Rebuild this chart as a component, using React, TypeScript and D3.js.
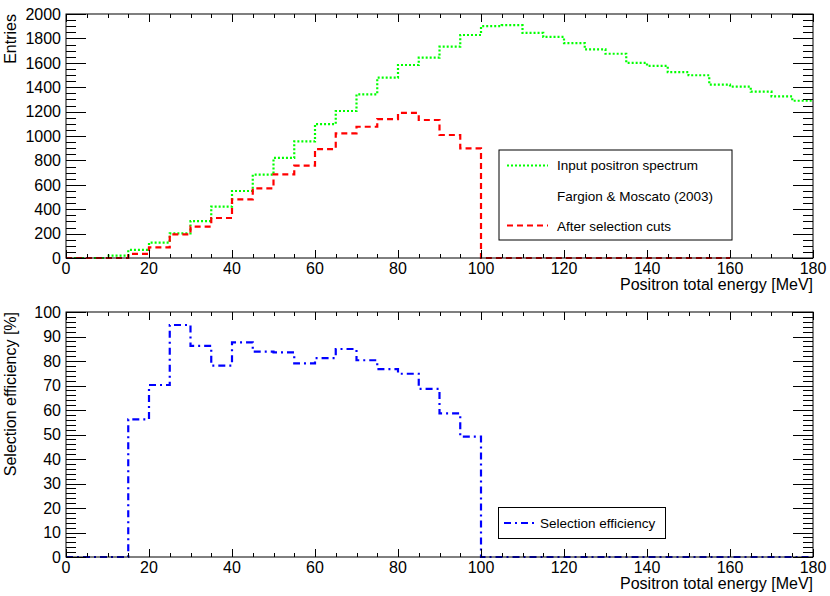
import React from "react";
import * as d3 from "d3";

// ---- data (bins of 5 MeV starting at 0) ----
const binWidth = 5;
const inputSpectrum = [
  0, 0, 20, 66, 126, 202, 303, 421, 549, 683, 820, 956, 1098, 1205, 1342, 1478, 1582, 1642,
  1732, 1828, 1900, 1908, 1845, 1812, 1762, 1710, 1674, 1600, 1575, 1523, 1498, 1421, 1404,
  1363, 1325, 1289,
];
const afterCuts = [
  0, 0, 0, 33, 87, 194, 257, 328, 481, 571, 686, 757, 893, 1022, 1076, 1139, 1189, 1131,
  1008, 899, 0, 0, 0, 0, 0, 0, 0, 0, 0, 0, 0, 0,
];
const efficiency = [
  0, 0, 0, 56.2, 70.2, 94.7, 86.2, 78.1, 87.6, 83.8, 83.5, 79.0, 81.2, 84.9, 80.3, 76.7, 74.8,
  68.6, 58.6, 49.1, 0, 0, 0, 0, 0, 0, 0, 0, 0, 0, 0, 0, 0, 0, 0, 0,
];
const xTickLabels = [0, 20, 40, 60, 80, 100, 120, 140, 160, 180];
const yTopTickLabels = [0, 200, 400, 600, 800, 1000, 1200, 1400, 1600, 1800, 2000];
const yBotTickLabels = [0, 10, 20, 30, 40, 50, 60, 70, 80, 90, 100];
const xTitle = "Positron total energy [MeV]";
const yTopTitle = "Entries";
const yBotTitle = "Selection efficiency [%]";
const legendTop = ["Input positron spectrum", "Fargion & Moscato (2003)", "After selection cuts"];
const legendBot = ["Selection efficiency"];

const FONT = "'Liberation Sans', Arial, Helvetica, sans-serif";

const L = 66, R = 813;
const x = d3.scaleLinear().domain([0, 180]).range([L, R]);
const yTop = d3.scaleLinear().domain([0, 2000]).range([258, 14]);
const yBot = d3.scaleLinear().domain([0, 100]).range([557, 312]);

function histPath(vals: number[], y: d3.ScaleLinear<number, number>) {
  const pts: [number, number][] = vals.map((v, i) => [i * binWidth, v]);
  pts.push([vals.length * binWidth, vals[vals.length - 1]]);
  return d3
    .line<[number, number]>()
    .x((d) => x(d[0]))
    .y((d) => y(d[1]))
    .curve(d3.curveStepAfter)(pts) as string;
}

function Frame({
  y,
  yMinorStep,
  yMajorStep,
  yMax,
  yLabels,
  yTitle,
}: {
  y: d3.ScaleLinear<number, number>;
  yMinorStep: number;
  yMajorStep: number;
  yMax: number;
  yLabels: number[];
  yTitle: string;
}) {
  const [bottom, top] = y.range();
  const xt = d3.range(0, 181, 5);
  const yt = d3.range(0, yMax + 0.001, yMinorStep);
  return (
    <g>
      <rect x={L} y={top} width={R - L} height={bottom - top} fill="none" stroke="#000" strokeWidth={1} />
      {xt.map((v) => {
        const len = v % 20 === 0 ? 8 : 4;
        const xx = Math.round(x(v)) + 0.5;
        return (
          <g key={"x" + v}>
            <line x1={xx} x2={xx} y1={bottom} y2={bottom - len} stroke="#000" />
            <line x1={xx} x2={xx} y1={top} y2={top + len} stroke="#000" />
          </g>
        );
      })}
      {yt.map((v) => {
        const major = Math.abs(v / yMajorStep - Math.round(v / yMajorStep)) < 1e-6;
        const len = major ? 20 : 10;
        const yy = Math.round(y(v)) + 0.5;
        return (
          <g key={"y" + v}>
            <line x1={L} x2={L + len} y1={yy} y2={yy} stroke="#000" />
            <line x1={R} x2={R - len} y1={yy} y2={yy} stroke="#000" />
          </g>
        );
      })}
      {xTickLabels.map((v) => (
        <text key={"xl" + v} x={x(v)} y={bottom + 15.5} textAnchor="middle" fontSize={16} fontFamily={FONT}>
          {v}
        </text>
      ))}
      {yLabels.map((v) => (
        <text key={"yl" + v} x={61} y={y(v)} dy="0.36em" textAnchor="end" fontSize={16} fontFamily={FONT}>
          {v}
        </text>
      ))}
      <text x={R} y={bottom + 31.5} textAnchor="end" fontSize={16} fontFamily={FONT}>
        {xTitle}
      </text>
      <text
        transform={`translate(16,${top}) rotate(-90)`}
        textAnchor="end"
        fontSize={16}
        fontFamily={FONT}
      >
        {yTitle}
      </text>
    </g>
  );
}

export default function App() {
  const green = "#00ff00";
  const red = "#ff0000";
  const blue = "#0000ff";
  const dotted = "2,2";
  const dashed = "6,4";
  const dashDot = "7,4,2,4";
  return (
    <svg
      width={830}
      height={596}
      style={{ position: "absolute", left: 0, top: 0, background: "#fff" }}
    >
      <rect x={0} y={0} width={830} height={596} fill="#fff" />
      {/* top panel */}
      <path d={histPath(inputSpectrum, yTop)} fill="none" stroke={green} strokeWidth={2.2} strokeDasharray={dotted} />
      <path d={histPath(afterCuts, yTop)} fill="none" stroke={red} strokeWidth={2.2} strokeDasharray={dashed} />
      <Frame y={yTop} yMinorStep={50} yMajorStep={200} yMax={2000} yLabels={yTopTickLabels} yTitle={yTopTitle} />
      <g>
        <rect x={499} y={150} width={233} height={90} fill="#fff" stroke="#000" strokeWidth={1} />
        <line x1={507} x2={548} y1={165.5} y2={165.5} stroke={green} strokeWidth={2.2} strokeDasharray={dotted} />
        <line x1={507} x2={548} y1={225.5} y2={225.5} stroke={red} strokeWidth={2.2} strokeDasharray={dashed} />
        {legendTop.map((t, i) => (
          <text key={t} x={557} y={[165.6, 196, 225.7][i]} dy="0.36em" fontSize={13.5} fontFamily={FONT}>
            {t}
          </text>
        ))}
      </g>
      {/* bottom panel */}
      <path d={histPath(efficiency, yBot)} fill="none" stroke={blue} strokeWidth={2.2} strokeDasharray={dashDot} />
      <Frame y={yBot} yMinorStep={2} yMajorStep={10} yMax={100} yLabels={yBotTickLabels} yTitle={yBotTitle} />
      <g>
        <rect x={498.5} y={507.5} width={167} height={31} fill="#fff" stroke="#000" strokeWidth={1} />
        <line x1={504} x2={534} y1={523} y2={523} stroke={blue} strokeWidth={2.2} strokeDasharray={dashDot} />
        <text x={540} y={523} dy="0.36em" fontSize={13.5} fontFamily={FONT}>
          {legendBot[0]}
        </text>
      </g>
    </svg>
  );
}
